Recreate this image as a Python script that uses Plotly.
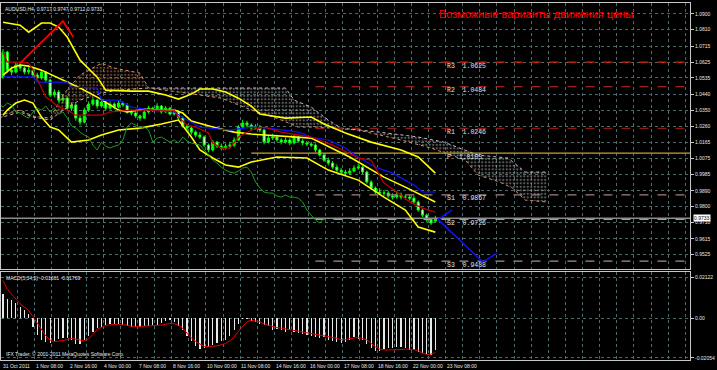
import plotly.graph_objects as go

# ---------------- DATA ----------------
open_ = [1.0540, 1.0682, 1.0579, 1.0568, 1.0608, 1.0591, 1.0568, 1.0579, 1.0551, 1.0534,
         1.0568, 1.0522, 1.0437, 1.0454, 1.0408, 1.0420, 1.0362, 1.0380, 1.0305, 1.0282,
         1.0351, 1.0385, 1.0408, 1.0374, 1.0397, 1.0362, 1.0385, 1.0368, 1.0391, 1.0380,
         1.0340, 1.0334, 1.0317, 1.0305, 1.0340, 1.0362, 1.0351, 1.0374, 1.0340, 1.0362,
         1.0328, 1.0340, 1.0305, 1.0260, 1.0248, 1.0225, 1.0208, 1.0197, 1.0151, 1.0123,
         1.0168, 1.0145, 1.0134, 1.0145, 1.0151, 1.0180, 1.0254, 1.0277, 1.0265, 1.0248,
         1.0254, 1.0237, 1.0168, 1.0191, 1.0197, 1.0180, 1.0168, 1.0180, 1.0163, 1.0197,
         1.0174, 1.0163, 1.0157, 1.0151, 1.0123, 1.0094, 1.0065, 1.0048, 1.0025, 1.0008,
         0.9997, 0.9991, 1.0003, 1.0020, 1.0025, 0.9997, 0.9940, 0.9906, 0.9883, 0.9877,
         0.9877, 0.9860, 0.9854, 0.9866, 0.9854, 0.9854, 0.9848, 0.9826, 0.9780, 0.9751,
         0.9723, 0.9717]
close = [1.0682, 1.0579, 1.0568, 1.0608, 1.0591, 1.0568, 1.0579, 1.0551, 1.0534, 1.0568,
         1.0522, 1.0437, 1.0454, 1.0408, 1.0420, 1.0362, 1.0380, 1.0305, 1.0282, 1.0351,
         1.0385, 1.0408, 1.0374, 1.0397, 1.0362, 1.0385, 1.0368, 1.0391, 1.0380, 1.0340,
         1.0334, 1.0317, 1.0305, 1.0340, 1.0362, 1.0351, 1.0374, 1.0340, 1.0362, 1.0328,
         1.0340, 1.0305, 1.0260, 1.0248, 1.0225, 1.0208, 1.0197, 1.0151, 1.0123, 1.0168,
         1.0145, 1.0134, 1.0145, 1.0151, 1.0180, 1.0254, 1.0277, 1.0265, 1.0248, 1.0254,
         1.0237, 1.0168, 1.0191, 1.0197, 1.0180, 1.0168, 1.0180, 1.0163, 1.0197, 1.0174,
         1.0163, 1.0157, 1.0151, 1.0123, 1.0094, 1.0065, 1.0048, 1.0025, 1.0008, 0.9997,
         0.9991, 1.0003, 1.0020, 1.0025, 0.9997, 0.9940, 0.9906, 0.9883, 0.9877, 0.9877,
         0.9860, 0.9854, 0.9866, 0.9854, 0.9854, 0.9848, 0.9826, 0.9780, 0.9751, 0.9723,
         0.9706, 0.9733]
high = [1.0700, 1.0690, 1.0600, 1.0625, 1.0620, 1.0600, 1.0595, 1.0590, 1.0565, 1.0580,
        1.0575, 1.0530, 1.0470, 1.0465, 1.0440, 1.0430, 1.0395, 1.0390, 1.0320, 1.0365,
        1.0400, 1.0425, 1.0415, 1.0410, 1.0405, 1.0400, 1.0395, 1.0405, 1.0400, 1.0390,
        1.0355, 1.0345, 1.0325, 1.0355, 1.0375, 1.0370, 1.0390, 1.0380, 1.0375, 1.0370,
        1.0355, 1.0350, 1.0315, 1.0270, 1.0260, 1.0235, 1.0225, 1.0205, 1.0160, 1.0180,
        1.0175, 1.0160, 1.0160, 1.0170, 1.0195, 1.0265, 1.0295, 1.0290, 1.0275, 1.0270,
        1.0265, 1.0245, 1.0205, 1.0215, 1.0210, 1.0190, 1.0195, 1.0190, 1.0215, 1.0205,
        1.0185, 1.0175, 1.0170, 1.0160, 1.0130, 1.0105, 1.0080, 1.0060, 1.0040, 1.0020,
        1.0010, 1.0020, 1.0035, 1.0045, 1.0035, 1.0005, 0.9950, 0.9915, 0.9905, 0.9895,
        0.9890, 0.9875, 0.9885, 0.9880, 0.9870, 0.9865, 0.9860, 0.9835, 0.9790, 0.9760,
        0.9730, 0.9747]
low = [1.0530, 1.0565, 1.0550, 1.0560, 1.0575, 1.0555, 1.0555, 1.0540, 1.0520, 1.0525,
       1.0505, 1.0425, 1.0425, 1.0395, 1.0390, 1.0350, 1.0345, 1.0290, 1.0265, 1.0275,
       1.0340, 1.0375, 1.0360, 1.0365, 1.0350, 1.0355, 1.0355, 1.0360, 1.0370, 1.0330,
       1.0320, 1.0305, 1.0290, 1.0300, 1.0330, 1.0340, 1.0345, 1.0330, 1.0335, 1.0320,
       1.0320, 1.0295, 1.0250, 1.0235, 1.0210, 1.0195, 1.0185, 1.0140, 1.0110, 1.0115,
       1.0135, 1.0120, 1.0125, 1.0135, 1.0140, 1.0175, 1.0245, 1.0255, 1.0235, 1.0240,
       1.0225, 1.0155, 1.0160, 1.0180, 1.0170, 1.0155, 1.0160, 1.0150, 1.0155, 1.0165,
       1.0150, 1.0145, 1.0140, 1.0110, 1.0085, 1.0055, 1.0035, 1.0015, 0.9995, 0.9985,
       0.9975, 0.9980, 0.9995, 1.0010, 0.9985, 0.9930, 0.9895, 0.9870, 0.9865, 0.9860,
       0.9850, 0.9840, 0.9845, 0.9840, 0.9840, 0.9835, 0.9815, 0.9770, 0.9740, 0.9710,
       0.9695, 0.9712]

macd_hist = [0.0125, 0.0102, 0.0093, 0.0078, 0.0058, 0.0045, 0.0020, -0.0043, -0.0088, -0.0113,
             -0.0122, -0.0128, -0.0116, -0.0108, -0.0102, -0.0102, -0.0110, -0.0132, -0.0133, -0.0115,
             -0.0092, -0.0070, -0.0052, -0.0043, -0.0034, -0.0031, -0.0031, -0.0032, -0.0035, -0.0040,
             -0.0047, -0.0044, -0.0043, -0.0040, -0.0038, -0.0035, -0.0034, -0.0025, -0.0016, -0.0010,
             -0.0020, -0.0040, -0.0062, -0.0090, -0.0120, -0.0142, -0.0157, -0.0154, -0.0147, -0.0138,
             -0.0130, -0.0120, -0.0110, -0.0090, -0.0060, -0.0028, -0.0005, -0.0004, -0.0012, -0.0019,
             -0.0029, -0.0034, -0.0042, -0.0060, -0.0055, -0.0061, -0.0069, -0.0062, -0.0071, -0.0078,
             -0.0081, -0.0087, -0.0094, -0.0097, -0.0101, -0.0097, -0.0110, -0.0117, -0.0125, -0.0130,
             -0.0121, -0.0115, -0.0098, -0.0106, -0.0114, -0.0133, -0.0156, -0.0170, -0.0170, -0.0160,
             -0.0156, -0.0154, -0.0149, -0.0150, -0.0155, -0.0163, -0.0165, -0.0173, -0.0178, -0.0186,
             -0.0188, -0.0166]
macd_signal = [0.0195, 0.0150, 0.0125, 0.0100, 0.0075, 0.0058, 0.0040, 0.0008, -0.0027, -0.0062,
               -0.0091, -0.0113, -0.0121, -0.0118, -0.0115, -0.0111, -0.0104, -0.0108, -0.0115, -0.0117,
               -0.0106, -0.0085, -0.0057, -0.0046, -0.0037, -0.0034, -0.0031, -0.0032, -0.0034, -0.0036,
               -0.0042, -0.0043, -0.0042, -0.0041, -0.0040, -0.0039, -0.0038, -0.0035, -0.0031, -0.0027,
               -0.0028, -0.0035, -0.0052, -0.0078, -0.0102, -0.0120, -0.0135, -0.0146, -0.0146, -0.0145,
               -0.0143, -0.0137, -0.0131, -0.0116, -0.0098, -0.0068, -0.0040, -0.0018, -0.0010, -0.0014,
               -0.0018, -0.0030, -0.0037, -0.0044, -0.0048, -0.0051, -0.0055, -0.0060, -0.0062, -0.0065,
               -0.0069, -0.0072, -0.0076, -0.0080, -0.0084, -0.0088, -0.0093, -0.0096, -0.0103, -0.0111,
               -0.0110, -0.0105, -0.0104, -0.0100, -0.0105, -0.0112, -0.0130, -0.0148, -0.0160, -0.0164,
               -0.0164, -0.0164, -0.0164, -0.0162, -0.0160, -0.0159, -0.0162, -0.0168, -0.0180, -0.0188,
               -0.0186, -0.0177]

bb_upper_bars = [0, 4, 6, 9, 11, 13, 15, 18, 22, 24, 30, 34, 38, 41, 44, 46, 49, 52, 55, 58, 60, 66, 72, 75, 80, 86, 93, 97, 101]
bb_upper = [1.0853, 1.0836, 1.0796, 1.0848, 1.0848, 1.0825, 1.0768, 1.0636, 1.0539, 1.0465, 1.0459, 1.0459, 1.0437, 1.0414,
            1.0442, 1.0471, 1.0471, 1.0454, 1.0419, 1.0374, 1.0328, 1.0305, 1.0311, 1.0271, 1.0220, 1.0168, 1.0123, 1.0083, 0.9991]
bb_mid_bars = [0, 2, 4, 6, 9, 15, 18, 22, 25, 27, 29, 33, 36, 40, 42, 44, 49, 54, 58, 72, 81, 89, 94, 101]
bb_mid = [1.0551, 1.0591, 1.0608, 1.0602, 1.0579, 1.0511, 1.0477, 1.0425, 1.0380, 1.0351, 1.0340, 1.0357, 1.0351, 1.0351,
          1.0334, 1.0288, 1.0254, 1.0225, 1.0214, 1.0191, 1.0083, 0.9968, 0.9911, 0.9826]
bb_lower_bars = [0, 1, 3, 5, 7, 9, 11, 13, 16, 20, 23, 27, 32, 37, 41, 44, 46, 49, 52, 55, 58, 64, 71, 76, 83, 89, 94, 97, 101]
bb_lower = [1.0322, 1.0351, 1.0391, 1.0408, 1.0391, 1.0311, 1.0254, 1.0237, 1.0168, 1.0180, 1.0208, 1.0237, 1.0248, 1.0271,
            1.0294, 1.0197, 1.0123, 1.0077, 1.0037, 1.0025, 1.0054, 1.0083, 1.0077, 1.0008, 0.9951, 0.9854, 0.9780, 0.9683, 0.9654]

tenkan_bars = [0, 1, 4, 6, 7, 9, 10, 11, 13, 15, 17, 23, 25, 30, 40, 41, 43, 45, 48, 49, 51, 53, 54, 55, 58, 61, 65, 72,
               77, 83, 86, 89, 92, 95, 98, 101]
tenkan = [1.0682, 1.0625, 1.0625, 1.0619, 1.0579, 1.0482, 1.0425, 1.0408, 1.0368, 1.0351, 1.0322, 1.0322, 1.0340, 1.0351,
          1.0351, 1.0311, 1.0265, 1.0254, 1.0220, 1.0163, 1.0134, 1.0134, 1.0163, 1.0197, 1.0237, 1.0254, 1.0225, 1.0197,
          1.0151, 1.0077, 1.0065, 0.9934, 0.9883, 0.9826, 0.9791, 0.9768]
kijun_bars = [0, 7, 8, 15, 16, 22, 23, 27, 30, 35, 40, 43, 46, 49, 53, 58, 62, 69, 72, 76, 80, 83, 87, 91, 94, 96, 98, 101]
kijun = [1.0540, 1.0540, 1.0511, 1.0511, 1.0482, 1.0477, 1.0408, 1.0408, 1.0368, 1.0351, 1.0340, 1.0294, 1.0254, 1.0248,
         1.0237, 1.0254, 1.0248, 1.0225, 1.0197, 1.0180, 1.0134, 1.0083, 1.0025, 0.9991, 0.9951, 0.9923, 0.9883, 0.9883]

span_a_bars = [-1, 4, 7, 11, 14, 18, 23, 26, 32, 34, 41, 51, 58, 62, 65, 69, 73, 83, 93, 100, 108, 111, 116, 119, 122, 127]
span_a = [1.0322, 1.0351, 1.0317, 1.0305, 1.0437, 1.0551, 1.0619, 1.0591, 1.0562, 1.0477, 1.0454, 1.0419, 1.0351, 1.0322,
          1.0294, 1.0254, 1.0254, 1.0237, 1.0180, 1.0134, 1.0065, 0.9980, 0.9940, 0.9906, 0.9837, 0.9826]
span_b_bars = [-1, 4, 7, 11, 14, 18, 23, 27, 34, 46, 58, 66, 68, 72, 76, 79, 88, 97, 103, 111, 118, 122, 127]
span_b = [1.0305, 1.0340, 1.0311, 1.0294, 1.0351, 1.0408, 1.0448, 1.0465, 1.0477, 1.0477, 1.0477, 1.0477, 1.0408, 1.0368,
          1.0294, 1.0248, 1.0225, 1.0197, 1.0168, 1.0094, 1.0077, 0.9997, 0.9997]
cloud_twist_bar = 34
chikou_shift = 26

pivot_names = ["R3", "R2", "R1", "P", "S1", "S2", "S3"]
pivot_levels = [1.0625, 1.0484, 1.0246, 1.0105, 0.9867, 0.9726, 0.9488]
pivot_start = [73, 73, 73, 58, 73, 73, 73]

red_path_bars = [4, 14, 16.4]
red_path = [1.0619, 1.0859, 1.0768]
blue_up_bars = [101.6, 104.9]
blue_up = [0.9727, 0.9780]
blue_down_bars = [101.6, 112.1, 115.4]
blue_down = [0.9727, 0.9483, 0.9534]

price_ticks = [1.0900, 1.0810, 1.0715, 1.0625, 1.0535, 1.0440, 1.0350, 1.0260, 1.0165, 1.0075,
               0.9985, 0.9890, 0.9800, 0.9710, 0.9615, 0.9525]
macd_ticks = [0.02122, 0.0, -0.02054]
macd_tick_text = ["0.02122", "0.00", "-0.02054"]
time_labels = ["31 Oct 2011", "1 Nov 08:00", "2 Nov 16:00", "4 Nov 00:00", "7 Nov 08:00", "8 Nov 16:00",
               "10 Nov 00:00", "11 Nov 08:00", "14 Nov 16:00", "16 Nov 00:00", "17 Nov 08:00",
               "18 Nov 16:00", "22 Nov 00:00", "23 Nov 08:00"]
bars_per_label = 8
last_price = 0.9733

# ---------------- FIGURE ----------------
bars = list(range(len(close)))
XMIN, XMAX = -0.47, 160.5
fig = go.Figure()

def part(bx, vals, cond):
    sel = [(b, v) for b, v in zip(bx, vals) if cond(b)]
    return [s[0] for s in sel], [s[1] for s in sel]

for cond, col in [((lambda b: b <= cloud_twist_bar), "#c98a5e"), ((lambda b: b >= cloud_twist_bar), "#b8b8b8")]:
    bx, bv = part(span_b_bars, span_b, cond)
    ax, av = part(span_a_bars, span_a, cond)
    fig.add_trace(go.Scatter(x=bx, y=bv, mode="lines", line=dict(width=0), xaxis="x", yaxis="y",
                             showlegend=False, hoverinfo="skip"))
    fig.add_trace(go.Scatter(x=ax, y=av, mode="lines", line=dict(width=0), fill="tonexty",
                             fillcolor="rgba(0,0,0,0)",
                             fillpattern=dict(shape=".", fgcolor=col, bgcolor="rgba(0,0,0,0)", size=3.5,
                                              solidity=0.35, fillmode="overlay"),
                             xaxis="x", yaxis="y", showlegend=False, hoverinfo="skip"))
fig.add_trace(go.Scatter(x=span_a_bars, y=span_a, mode="lines", line=dict(color="#d9916a", width=1, dash="dot"),
                         showlegend=False, hoverinfo="skip"))
fig.add_trace(go.Scatter(x=span_b_bars, y=span_b, mode="lines", line=dict(color="#c9b6c9", width=1, dash="dot"),
                         showlegend=False, hoverinfo="skip"))

fig.add_trace(go.Scatter(x=[XMIN, XMAX], y=[last_price, last_price], mode="lines",
                         line=dict(color="#8c8c8c", width=1.5), showlegend=False, hoverinfo="skip"))

piv_style = {"R3": ("#e02010", "dash", 1.2), "R2": ("#c83020", "dash", 1.2), "R1": ("#901818", "dash", 1.2),
             "P": ("#c8a030", "solid", 1.2), "S1": ("#a08080", "dash", 1.2), "S2": ("#a0a0a0", "dash", 1.2),
             "S3": ("#a09090", "dash", 1.2)}
for name, lev, st in zip(pivot_names, pivot_levels, pivot_start):
    c, d, w = piv_style[name]
    fig.add_trace(go.Scatter(x=[st, XMAX], y=[lev, lev], mode="lines", line=dict(color=c, width=w, dash=d),
                             showlegend=False, hoverinfo="skip"))

for bx, bv in [(bb_upper_bars, bb_upper), (bb_mid_bars, bb_mid), (bb_lower_bars, bb_lower)]:
    fig.add_trace(go.Scatter(x=bx, y=bv, mode="lines", line=dict(color="#ffff00", width=1.6),
                             showlegend=False, hoverinfo="skip"))

fig.add_trace(go.Scatter(x=[b - chikou_shift for b in bars], y=close, mode="lines",
                         line=dict(color="#1f9a1f", width=1), showlegend=False, hoverinfo="skip"))
fig.add_trace(go.Scatter(x=kijun_bars, y=kijun, mode="lines", line=dict(color="#1010ff", width=1.2),
                         showlegend=False, hoverinfo="skip"))
fig.add_trace(go.Scatter(x=tenkan_bars, y=tenkan, mode="lines", line=dict(color="#c00000", width=1.2),
                         showlegend=False, hoverinfo="skip"))

fig.add_trace(go.Candlestick(x=bars, open=open_, high=high, low=low, close=close,
                             increasing=dict(line=dict(color="#00ff00", width=1), fillcolor="#00ff00"),
                             decreasing=dict(line=dict(color="#00ff00", width=1), fillcolor="#ffffff"),
                             whiskerwidth=0, showlegend=False, hoverinfo="skip"))

fig.add_trace(go.Scatter(x=red_path_bars, y=red_path, mode="lines", line=dict(color="#ff0000", width=1.8),
                         showlegend=False, hoverinfo="skip"))
fig.add_trace(go.Scatter(x=blue_up_bars, y=blue_up, mode="lines", line=dict(color="#1010ff", width=1.5),
                         showlegend=False, hoverinfo="skip"))
fig.add_trace(go.Scatter(x=blue_down_bars, y=blue_down, mode="lines", line=dict(color="#1010ff", width=1.5),
                         showlegend=False, hoverinfo="skip"))

fig.add_trace(go.Bar(x=bars, y=macd_hist, marker=dict(color="#e8e8e8", line=dict(width=0)), width=0.28,
                     xaxis="x2", yaxis="y2", showlegend=False, hoverinfo="skip"))
fig.add_trace(go.Scatter(x=bars, y=macd_signal, mode="lines", line=dict(color="#e00000", width=1),
                         xaxis="x2", yaxis="y2", showlegend=False, hoverinfo="skip"))

GRID = "#4d6a6a"
AXL = "#c8c8c8"
small = dict(family="Liberation Sans", size=5, color="#e8e8e8")
xcommon = dict(range=[XMIN, XMAX], showticklabels=False, tick0=-0.6, dtick=4, showgrid=True, gridcolor=GRID,
               griddash="dot", gridwidth=1, zeroline=False, showline=True, mirror=True, linecolor=AXL,
               linewidth=1, ticks="", rangeslider=dict(visible=False), fixedrange=True, automargin=False)
fig.update_layout(
    width=717, height=370, margin=dict(l=1, r=27, t=2, b=10, autoexpand=False),
    paper_bgcolor="#000000", plot_bgcolor="#000000", hovermode=False, showlegend=False,
    bargap=0,
    xaxis=dict(domain=[0, 1], anchor="y", **xcommon),
    xaxis2=dict(domain=[0, 1], anchor="y2", matches="x", **xcommon),
    yaxis=dict(domain=[0.254, 0.997], range=[0.9443, 1.0962], side="right", tickvals=price_ticks,
               ticktext=[f"{v:.4f}" for v in price_ticks], tickfont=small, showgrid=True, gridcolor=GRID,
               griddash="dot", zeroline=False, showline=True, mirror=True, linecolor=AXL, ticks="outside",
               ticklen=3, tickcolor=AXL, fixedrange=True, automargin=False),
    yaxis2=dict(domain=[0, 0.246], range=[-0.0216, 0.0240], side="right", tickvals=macd_ticks,
                ticktext=macd_tick_text, tickfont=small, showgrid=True, gridcolor=GRID, griddash="dot",
                zeroline=False, showline=True, mirror=True, linecolor=AXL, ticks="outside", ticklen=3,
                tickcolor=AXL, fixedrange=True, automargin=False),
)

ann = []
for k, t in enumerate(time_labels):
    ann.append(dict(x=max(k * bars_per_label - 0.8, XMIN + 0.1), xref="x2", y=0, yref="paper", yanchor="top",
                    xanchor="left", text=t, showarrow=False, font=small, yshift=-1))
ann.append(dict(x=0.003, xref="paper", y=0.997, yref="paper", xanchor="left", yanchor="top",
                text="AUDUSD,H4  0.9717 0.9747 0.9712 0.9733", showarrow=False, font=small, yshift=-1))
ann.append(dict(x=0.004, xref="paper", y=0.246, yref="paper", xanchor="left", yanchor="top",
                text="MACD(5,34,5) -0.01661 -0.01769", showarrow=False, font=small, yshift=-1))
ann.append(dict(x=0.004, xref="paper", y=0, yref="paper", xanchor="left", yanchor="bottom",
                text="IFX Trader, © 2001-2011 MetaQuotes Software Corp.", showarrow=False, font=small, yshift=1))
ann.append(dict(x=101.4, xref="x", y=1.0899, yref="y", xanchor="left", yanchor="middle",
                text="Возможные варианты движения цены", showarrow=False,
                font=dict(family="Liberation Sans", size=11, color="#ff0000")))
for name, lev in zip(pivot_names, pivot_levels):
    ann.append(dict(x=103.3, xref="x", y=lev, yref="y", xanchor="left", yanchor="middle", yshift=-4,
                    text=f"{name}  {lev:.4f}", showarrow=False,
                    font=dict(family="Liberation Mono", size=6.5, color="#e0e0e0")))
ann.append(dict(x=1, xref="paper", y=last_price, yref="y", xanchor="left", yanchor="middle", xshift=3,
                text=f"{last_price:.4f}", showarrow=False, bgcolor="#ffffff", borderpad=0,
                font=dict(family="Liberation Sans", size=5, color="#000000")))
ann.append(dict(x=1, xref="paper", y=0.9435, yref="y", xanchor="left", yanchor="middle", xshift=4,
                text="0.9435", showarrow=False, font=small))
fig.update_layout(annotations=ann)

fig.write_html("out.html", config={"displayModeBar": False, "staticPlot": True},
               post_script="document.body.style.margin='0';document.body.style.background='#000';")
